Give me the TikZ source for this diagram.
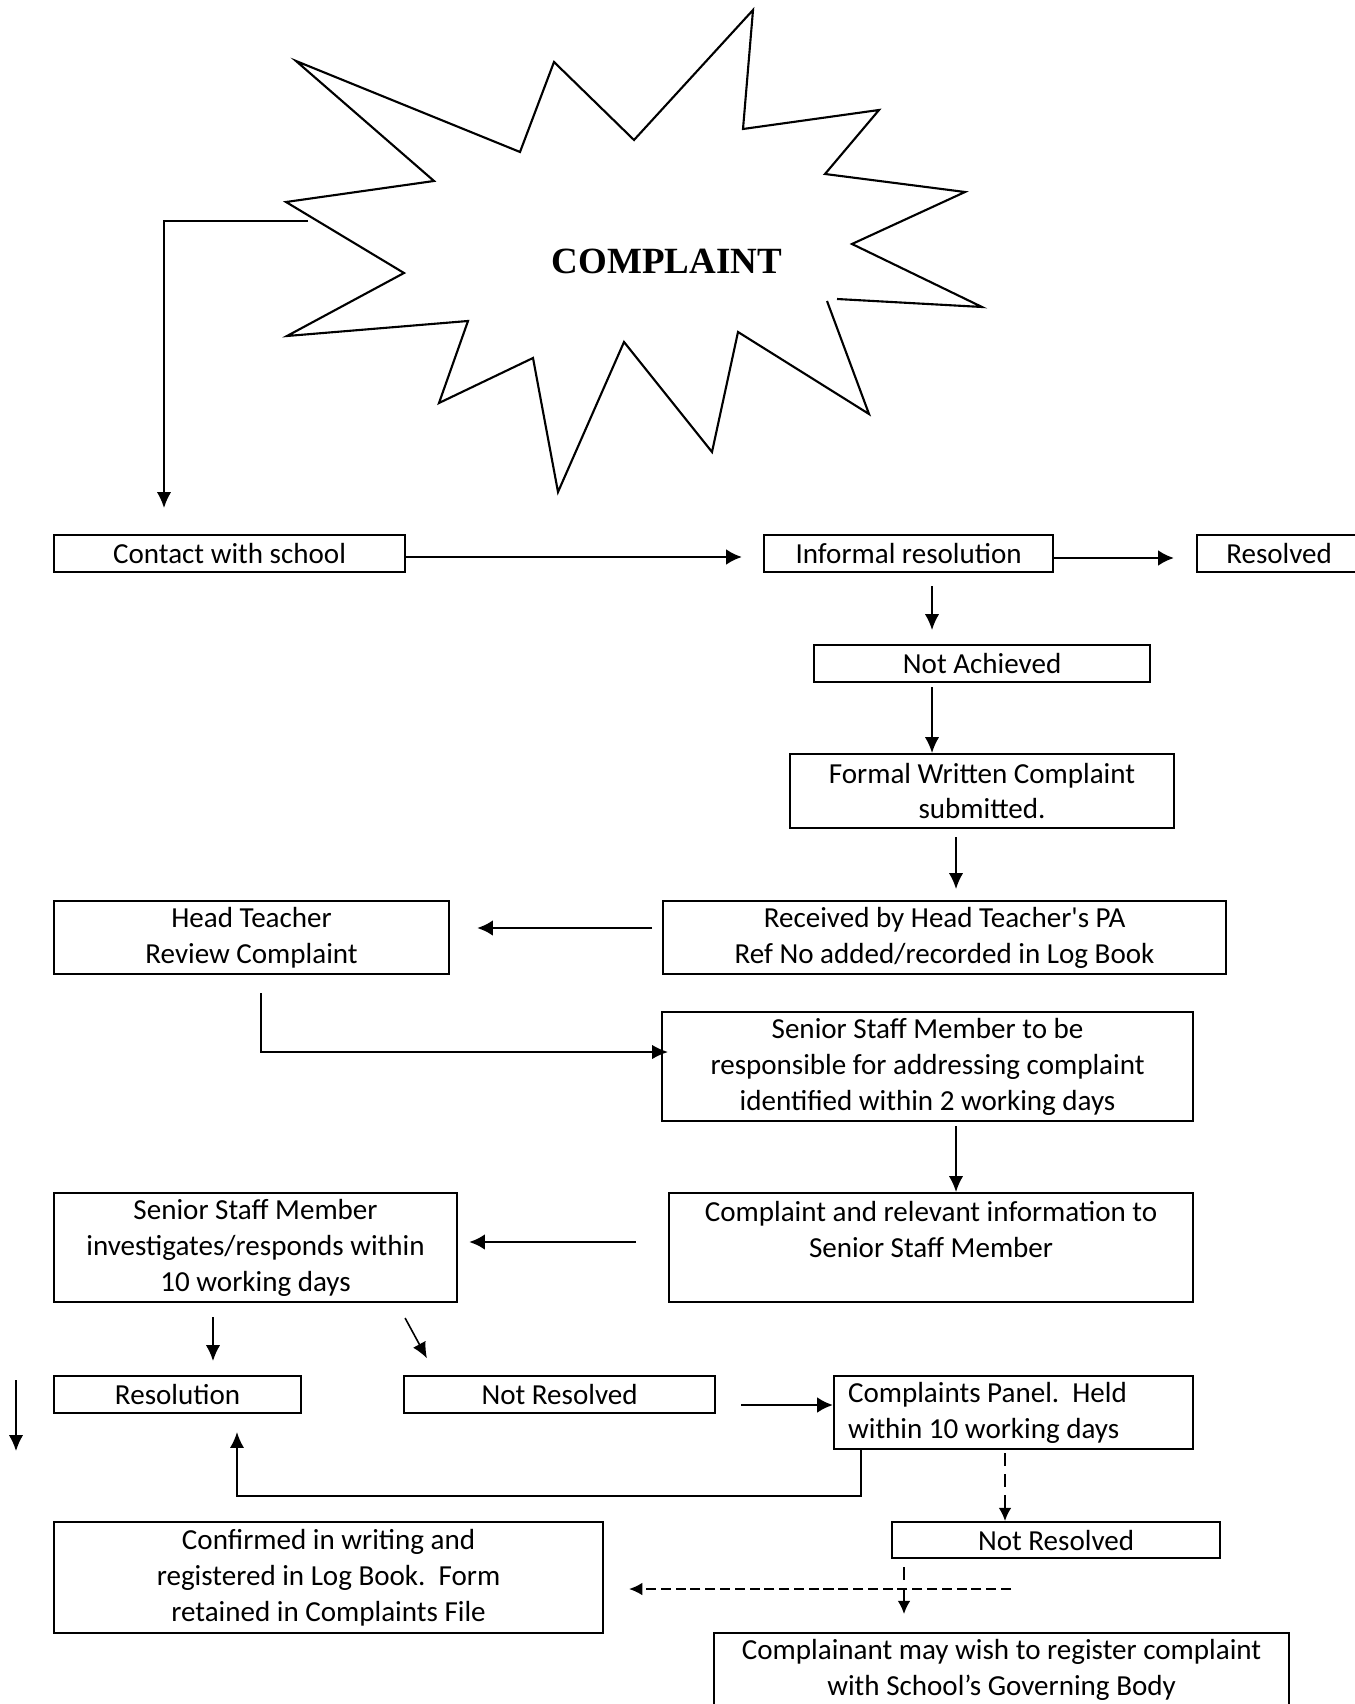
\documentclass[tikz,border=0pt]{standalone}
\usepackage{fontspec}
\setmainfont{Carlito}
\newfontfamily\headfont{Liberation Serif}
\usetikzlibrary{arrows.meta}
\newlength{\pix}
\setlength{\pix}{0.0133cm}

\begin{document}
\begin{tikzpicture}[x=0.0133cm, y=-0.0133cm,
    stagebox/.style={draw, line width=0.8pt, inner sep=0pt, anchor=north west, align=center,
      font=\fontsize{11pt}{13.6pt}\selectfont},
    thinarrow/.style={-{Latex[length=6pt,width=5.4pt]}, line width=0.6pt},
    thickarrow/.style={-{Latex[length=6pt,width=6pt]}, line width=1.1pt},
    dashdown/.style={-{Latex[length=5pt,width=4.8pt]}, line width=0.6pt, dash pattern=on 5pt off 3pt},
    dashacross/.style={-{Latex[length=5pt,width=4.8pt]}, line width=0.6pt, dash pattern=on 3.8pt off 1.8pt}]
  \useasboundingbox (0,0) rectangle (1354,1704);

  % the starburst
  \draw[line width=0.8pt] (827,301) -- (869,414) -- (738,332) -- (712,452) -- (624,342) -- (558,492)
    -- (533,358) -- (439,403) -- (468,321) -- (287,336) -- (404,273) -- (286,202) -- (434,181)
    -- (296,61) -- (520,152) -- (554,62) -- (634,140) -- (753,10) -- (743,129) -- (879,110)
    -- (825,174) -- (965,192) -- (852,244) -- (982,307) -- (837,299);
  \node (complaint) at (667,261) {\headfont\bfseries\fontsize{14pt}{17pt}\selectfont COMPLAINT};
  \coordinate (starleft) at (308,221);

  % boxes
  \node[stagebox, minimum width=351\pix, minimum height=37\pix] (contact) at (53,534) {Contact with school};
  \node[stagebox, minimum width=289\pix, minimum height=37\pix] (informal) at (763,534) {Informal resolution};
  \node[stagebox, minimum width=164\pix, minimum height=37\pix] (resolved) at (1196,534) {Resolved};
  \node[stagebox, minimum width=336\pix, minimum height=37\pix] (notachieved) at (813,644) {Not Achieved};
  \node[stagebox, minimum width=384\pix, minimum height=74\pix] (formal) at (789,753) {Formal Written Complaint\\submitted.};
  \node[stagebox, minimum width=563\pix, minimum height=73\pix] (received) at (662,900) {Received by Head Teacher\textquotesingle s PA\\Ref No added/recorded in Log Book};
  \node[stagebox, minimum width=395\pix, minimum height=73\pix] (headteacher) at (53,900) {Head Teacher\\Review Complaint};
  \node[stagebox, minimum width=531\pix, minimum height=109\pix] (seniorstaff) at (661,1011) {Senior Staff Member to be\\responsible for addressing complaint\\identified within 2 working days};
  \node[stagebox, minimum width=524\pix, minimum height=109\pix] (passedon) at (668,1192) {Complaint and relevant information to\\Senior Staff Member\\~};
  \node[stagebox, minimum width=403\pix, minimum height=109\pix] (investigates) at (53,1192) {Senior Staff Member\\investigates/responds within\\10 working days};
  \node[stagebox, minimum width=247\pix, minimum height=37\pix] (resolution) at (53,1375) {Resolution};
  \node[stagebox, minimum width=311\pix, minimum height=37\pix] (notresolvedA) at (403,1375) {Not Resolved};
  \node[stagebox, align=flush left, inner xsep=14\pix, text width=331\pix, minimum height=73\pix] (panel) at (833,1375) {Complaints Panel.\ \ Held\\within 10 working days};
  \node[stagebox, minimum width=328\pix, minimum height=36\pix] (notresolvedB) at (891,1521) {Not Resolved};
  \node[stagebox, minimum width=549\pix, minimum height=111\pix] (confirmed) at (53,1521) {Confirmed in writing and\\registered in Log Book.\ \ Form\\retained in Complaints File};
  \node[stagebox, minimum width=575\pix, minimum height=74\pix] (governors) at (713,1632) {Complainant may wish to register complaint\\with School’s Governing Body};

  % connectors
  \draw[thinarrow, shorten >=26\pix] (starleft) -| (contact.north -| 164,0);
  \draw[thickarrow, shorten >=21\pix] (contact.east |- 0,557) -- (informal.west |- 0,557);
  \draw[thickarrow, shorten >=22\pix] (informal.east |- 0,558) -- (resolved.west |- 0,558);
  \draw[thinarrow, shorten <=13\pix, shorten >=14\pix] (informal.south -| 932,0) -- (notachieved.north -| 932,0);
  \draw[thinarrow, shorten <=4\pix] (notachieved.south -| 932,0) -- (formal.north -| 932,0);
  \draw[thinarrow, shorten <=8\pix, shorten >=11\pix] (formal.south -| 956,0) -- (received.north -| 956,0);
  \draw[thickarrow, shorten <=10\pix, shorten >=27\pix] (received.west |- 0,928) -- (headteacher.east |- 0,928);
  \draw[thinarrow, shorten <=18\pix, shorten >=-7\pix] (headteacher.south -| 261,0) |- (seniorstaff.west |- 0,1052);
  \draw[thinarrow, shorten <=4\pix] (seniorstaff.south -| 956,0) -- (passedon.north -| 956,0);
  \draw[thickarrow, shorten <=32\pix, shorten >=11\pix] (passedon.west |- 0,1242) -- (investigates.east |- 0,1242);
  \draw[thinarrow, shorten <=14\pix, shorten >=14\pix] (investigates.south -| 213,0) -- (resolution.north -| 213,0);
  \draw[thinarrow, shorten <=17\pix, shorten >=19\pix] (investigates.south -| 397,0) -- (notresolvedA.north -| 436,0);
  \draw[thickarrow, shorten <=25\pix] (notresolvedA.east |- 0,1405) -- (panel.west |- 0,1405);
  \coordinate (panelloop) at (861,1496);
  \draw[thinarrow, shorten >=18\pix] (panel.south -| 861,0) -- (panelloop) -| (resolution.south -| 237,0);
  \draw[dashdown, shorten <=3\pix] (panel.south -| 1005,0) -- (notresolvedB.north -| 1005,0);
  \draw[dashdown, shorten <=8\pix, shorten >=18\pix] (notresolvedB.south -| 904,0) -- (governors.north -| 904,0);
  \coordinate (dashstart) at (1011,1589);
  \draw[dashacross, shorten >=25\pix] (dashstart) -- (confirmed.east |- 0,1589);
  % arrow at the left margin
  \coordinate (margintop) at (16,1380);
  \coordinate (marginfoot) at (16,1451);
  \draw[thinarrow] (margintop) -- (marginfoot);
\end{tikzpicture}
\end{document}
